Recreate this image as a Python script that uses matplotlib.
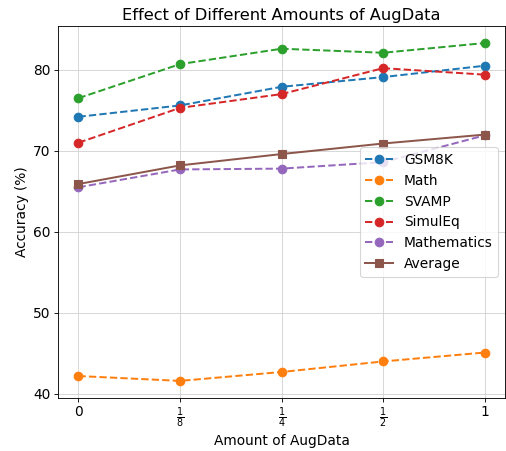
import matplotlib
matplotlib.use("Agg")
import matplotlib.pyplot as plt

x_labels = ['0', r'$\frac{1}{8}$', r'$\frac{1}{4}$', r'$\frac{1}{2}$', '1']
gsm8k = [74.2, 75.6, 77.9, 79.1, 80.5]
math_ = [42.2, 41.6, 42.7, 44.0, 45.1]
svamp = [76.5, 80.7, 82.6, 82.1, 83.3]
simuleq = [71.0, 75.3, 77.0, 80.2, 79.4]
mathematics = [65.5, 67.7, 67.8, 68.6, 71.9]
average = [65.9, 68.2, 69.6, 70.9, 72.0]

x = list(range(len(x_labels)))

dpi = 506 / 6.4
fig, ax = plt.subplots(figsize=(6.4, 451 / dpi), dpi=dpi)
ms = 7.8
lw = 1.8
ax.plot(x, gsm8k, 'o--', color='tab:blue', markersize=ms, lw=lw, label='GSM8K')
ax.plot(x, math_, 'o--', color='tab:orange', markersize=ms, lw=lw, label='Math')
ax.plot(x, svamp, 'o--', color='tab:green', markersize=ms, lw=lw, label='SVAMP')
ax.plot(x, simuleq, 'o--', color='tab:red', markersize=ms, lw=lw, label='SimulEq')
ax.plot(x, mathematics, 'o--', color='tab:purple', markersize=ms, lw=lw, label='Mathematics')
ax.plot(x, average, 's-', color='tab:brown', markersize=ms, lw=lw, label='Average')

ax.set_xticks(x)
ax.set_xticklabels(x_labels, fontsize=12.5)
ax.tick_params(axis='y', labelsize=12.5)
ax.set_yticks([40, 50, 60, 70, 80])
ax.grid(True, color='#d3d3d3')
ax.set_axisbelow(True)
ax.set_xlabel('Amount of AugData', fontsize=12.5)
ax.set_ylabel('Accuracy (%)', fontsize=12.5)
ax.set_title('Effect of Different Amounts of AugData', fontsize=14.8)
ax.legend(loc='center right', fontsize=12.5)

fig.subplots_adjust(left=0.115, right=0.998, top=0.942, bottom=0.118)
fig.savefig('out.png', dpi=dpi)
